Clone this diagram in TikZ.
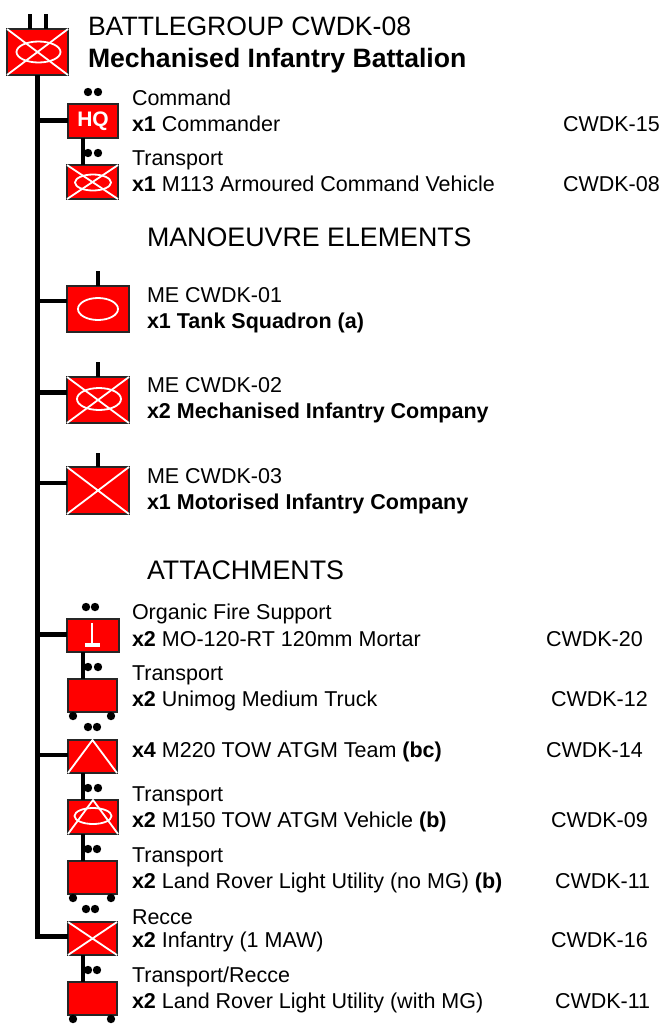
\documentclass[tikz,border=0pt]{standalone}
\usepackage{fontspec}
\setmainfont{Liberation Sans}
\newcommand{\bx}[6]{\node[unitbox,minimum width=#4pt-#3pt,minimum height=#6pt-#5pt] (#1) at ({(#3+#4)/2},{(#5+#6)/2}) {#2};}
\newcommand{\lab}[4]{\node[lbl] (#1) at (#2,#3) {#4};}
\newcommand{\pairdots}[3]{\fill (#1,#3) circle (4.2); \fill (#2,#3) circle (4.2);}
\newcommand{\wheels}[1]{\fill ([xshift=5pt,yshift=-4pt]#1.south west) circle (4.2); \fill ([xshift=-6pt,yshift=-4pt]#1.south east) circle (4.2);}
\newcommand{\xcross}[1]{\draw[sym] (#1.north west) -- (#1.south east) (#1.south west) -- (#1.north east);}
\newcommand{\apex}[1]{\draw[sym] (#1.south west) -- (#1.north) -- (#1.south east);}
\tikzset{
  unitbox/.style={draw=black!85,fill=red,line width=1.8pt,inner sep=0pt,outer sep=0pt,text=white,font=\fontsize{21}{24}\selectfont\bfseries},
  lbl/.style={anchor=base west,inner sep=0pt,outer sep=0pt,font=\fontsize{21.5}{24}\selectfont},
  head/.style={lbl,font=\fontsize{26.6}{30}\selectfont},
  sect/.style={lbl,font=\fontsize{26.8}{30}\selectfont},
  sym/.style={draw=white,line width=1.8pt},
  trunk/.style={line width=5pt,draw=black},
  link/.style={line width=4.4pt,draw=black},
}
\begin{document}
\begin{tikzpicture}[x=1pt,y=-1pt]
\useasboundingbox (0,0) rectangle (669,1026);
% boxes
\bx{bg}{}{7}{68}{29}{75}
\bx{hq}{HQ}{68}{118}{104}{138}
\bx{cv}{}{67}{118}{165}{199}
\bx{me1}{}{67}{129}{286}{332}
\bx{me2}{}{67}{129}{377}{423}
\bx{me3}{}{67}{129}{467}{514}
\bx{mor}{}{67}{119}{619}{652}
\bx{trk1}{}{68}{117}{679}{712}
\bx{atgm}{}{68}{117}{740}{773}
\bx{tow}{}{68}{118}{800}{834}
\bx{trk2}{}{68}{117}{861}{894}
\bx{rec}{}{68}{117}{922}{955}
\bx{trk3}{}{68}{117}{982}{1015}
% coordinates
\coordinate (s1) at (30,14); \coordinate (s2) at (46,14);
\coordinate (t1) at (37,120); \coordinate (t2) at (37,301); \coordinate (t3) at (37,392);
\coordinate (t4) at (37,483); \coordinate (t5) at (37,634); \coordinate (t6) at (37,755);
\coordinate (t7) at (37,936);
\coordinate (m1) at (98,271); \coordinate (m2) at (98,362); \coordinate (m3) at (98,453);
\coordinate (v) at (83,0);
% connectors
\draw[link] (s1) -- (s1 |- bg.north);
\draw[link] (s2) -- (s2 |- bg.north);
\draw[trunk] (t7 |- bg.south) -- (t7) -- (t7 -| rec.west);
\draw[trunk] (t1) -- (t1 -| hq.west);
\draw[link] (t2) -- (t2 -| me1.west);
\draw[trunk] (t3) -- (t3 -| me2.west);
\draw[link] (t4) -- (t4 -| me3.west);
\draw[trunk] (t5) -- (t5 -| mor.west);
\draw[link] (t6) -- (t6 -| atgm.west);
\draw[link] (m1) -- (m1 |- me1.north);
\draw[link] (m2) -- (m2 |- me2.north);
\draw[link] (m3) -- (m3 |- me3.north);
\draw[link] (hq.south -| v) -- (cv.north -| v);
\draw[link] (mor.south -| v) -- (trk1.north -| v);
\draw[link] (atgm.south -| v) -- (tow.north -| v);
\draw[link] (tow.south -| v) -- (trk2.north -| v);
\draw[link] (rec.south -| v) -- (trk3.north -| v);
% symbols
\xcross{bg} \draw[sym] (38.5,52) ellipse (22 and 10.5);
\xcross{cv} \draw[sym] (93,182.5) ellipse (18 and 8);
\draw[sym] (98,309) ellipse (20 and 11);
\xcross{me2} \draw[sym] (99,399) ellipse (22 and 11);
\xcross{me3}
\draw[sym,line width=2.4pt] (92,623) -- (92,645);
\draw[sym,line width=3.4pt] (85,645) -- (100,645);
\apex{atgm}
\apex{tow} \draw[sym] (93,816) ellipse (18.5 and 8);
\xcross{rec}
% dots and wheels
\pairdots{88}{98}{92}
\pairdots{88}{98}{153}
\pairdots{86}{95}{607}
\pairdots{88}{98}{667}
\pairdots{88}{97}{727}
\pairdots{88}{98}{788}
\pairdots{88}{97}{849}
\pairdots{86}{95}{909}
\pairdots{88}{97}{970}
\wheels{trk1} \wheels{trk2} \wheels{trk3}
% text
\node[head] (h1) at (88,35) {BATTLEGROUP CWDK-08};
\node[head] (h2) at (88,67) {\textbf{Mechanised Infantry Battalion}};
\lab{a1}{132}{105}{Command}
\lab{a2}{132}{131}{\textbf{x1} Commander}
\lab{a3}{563}{131}{CWDK-15}
\lab{b1}{132}{165}{Transport}
\lab{b2}{132}{191}{\textbf{x1} M113 Armoured Command Vehicle}
\lab{b3}{563}{191}{CWDK-08}
\node[sect] (me) at (147,246) {MANOEUVRE ELEMENTS};
\lab{c1}{147}{302}{ME CWDK-01}
\lab{c2}{147}{328}{\textbf{x1 Tank Squadron (a)}}
\lab{d1}{147}{392}{ME CWDK-02}
\lab{d2}{147}{418}{\textbf{x2 Mechanised Infantry Company}}
\lab{e1}{147}{483}{ME CWDK-03}
\lab{e2}{147}{509}{\textbf{x1 Motorised Infantry Company}}
\node[sect] (att) at (147,579) {ATTACHMENTS};
\lab{f1}{132}{619}{Organic Fire Support}
\lab{f2}{132}{646}{\textbf{x2} MO-120-RT 120mm Mortar}
\lab{f3}{546}{646}{CWDK-20}
\lab{g1}{132}{680}{Transport}
\lab{g2}{132}{706}{\textbf{x2} Unimog Medium Truck}
\lab{g3}{551}{706}{CWDK-12}
\lab{h3}{132}{757}{\textbf{x4} M220 TOW ATGM Team \textbf{(bc)}}
\lab{h4}{546}{757}{CWDK-14}
\lab{i1}{132}{801}{Transport}
\lab{i2}{132}{827}{\textbf{x2} M150 TOW ATGM Vehicle \textbf{(b)}}
\lab{i3}{551}{827}{CWDK-09}
\lab{j1}{132}{862}{Transport}
\lab{j2}{132}{888}{\textbf{x2} Land Rover Light Utility (no MG) \textbf{(b)}}
\lab{j3}{555}{888}{CWDK-11}
\lab{k1}{132}{924}{Recce}
\lab{k2}{132}{947}{\textbf{x2} Infantry (1 MAW)}
\lab{k3}{551}{947}{CWDK-16}
\lab{l1}{132}{982}{Transport/Recce}
\lab{l2}{132}{1008}{\textbf{x2} Land Rover Light Utility (with MG)}
\lab{l3}{555}{1008}{CWDK-11}
\end{tikzpicture}
\end{document}
